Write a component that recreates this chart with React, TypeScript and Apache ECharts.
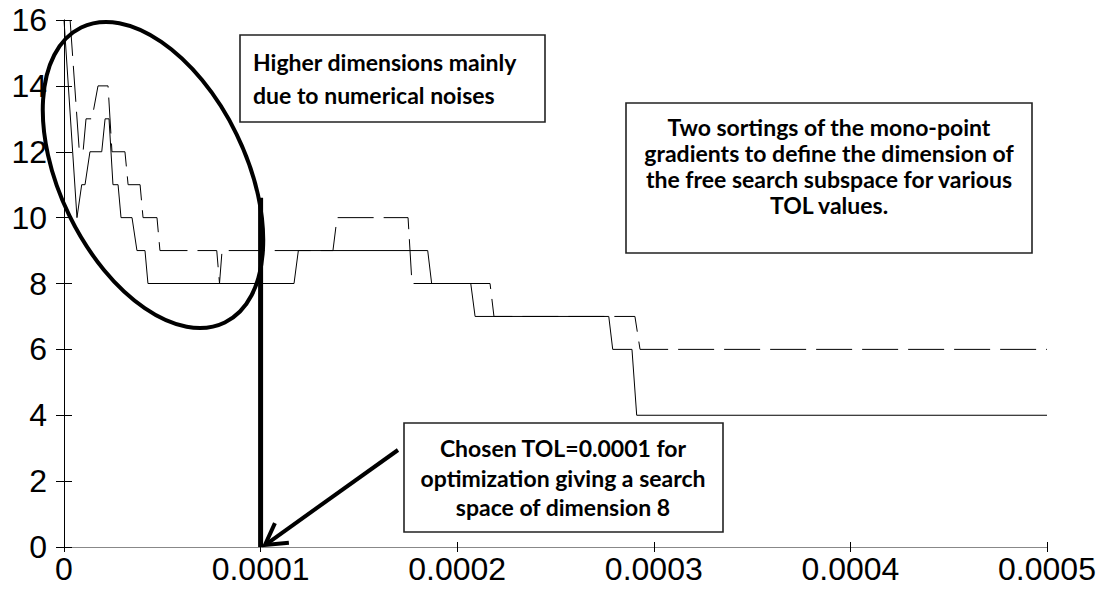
import React, { useEffect, useRef } from 'react';
import * as echarts from 'echarts';

// TOL values (x) and dimension of free search subspace (y)
const solidX = [0, 0.66e-5, 0.90e-5, 1.07e-5, 1.32e-5, 1.92e-5, 2.09e-5, 2.29e-5, 2.49e-5, 2.75e-5, 2.90e-5, 3.46e-5, 3.71e-5, 4.12e-5, 4.27e-5, 11.70e-5, 11.92e-5, 18.50e-5, 18.70e-5, 20.69e-5, 20.91e-5, 27.71e-5, 27.91e-5, 28.89e-5, 29.13e-5, 50e-5];
const solidY = [16, 10, 11, 11, 12, 12, 13, 13, 11, 11, 10, 10, 9, 9, 8, 8, 9, 9, 8, 8, 7, 7, 6, 6, 4, 4];
const dashedX = [0.31e-5, 0.78e-5, 0.97e-5, 1.12e-5, 1.42e-5, 1.73e-5, 2.24e-5, 2.44e-5, 3.10e-5, 3.26e-5, 3.87e-5, 4.02e-5, 4.73e-5, 4.88e-5, 7.77e-5, 7.91e-5, 8.04e-5, 13.68e-5, 13.89e-5, 17.50e-5, 17.70e-5, 21.67e-5, 21.87e-5, 29.04e-5, 29.30e-5, 50e-5];
const dashedY = [16, 12, 12, 13, 13, 14, 14, 12, 12, 11, 11, 10, 10, 9, 9, 8, 9, 9, 10, 10, 8, 8, 7, 7, 6, 6];
const chosenX = [0.0001, 0.0001];
const chosenY = [0, 10.6];
const xTickLabels = ['0', '0.0001', '0.0002', '0.0003', '0.0004', '0.0005'];
const yTickLabels = ['0', '2', '4', '6', '8', '10', '12', '14', '16'];

const noteFont = 'bold 23px Lato, "Open Sans", sans-serif';

function zip(xs: number[], ys: number[]) {
  return xs.map((x, i) => [x, ys[i]]);
}

export default function App() {
  const ref = useRef<HTMLDivElement>(null);
  useEffect(() => {
    if (!ref.current) return;
    const chart = echarts.init(ref.current, undefined, { renderer: 'svg' });

    // arrow geometry
    const tail = [398, 450];
    const tip = [265, 545];
    const dx = tail[0] - tip[0];
    const dy = tail[1] - tip[1];
    const len = Math.hypot(dx, dy);
    const ux = dx / len, uy = dy / len;
    const ang = (30 * Math.PI) / 180;
    const hl = 24;
    const arm = (s: number) => [
      tip[0] + hl * (ux * Math.cos(s * ang) - uy * Math.sin(s * ang)),
      tip[1] + hl * (ux * Math.sin(s * ang) + uy * Math.cos(s * ang)),
    ];

    const text = (t: string, x: number, y: number, align: string) => ({
      type: 'text',
      x,
      y,
      style: { text: t, font: noteFont, fill: '#000', textAlign: align, textVerticalAlign: 'middle' },
      z: 100,
    });
    const box = (x: number, y: number, w: number, h: number) => ({
      type: 'rect',
      shape: { x, y, width: w, height: h },
      style: { fill: '#fff', stroke: '#222', lineWidth: 1.6 },
      z: 99,
    });

    chart.setOption({
      animation: false,
      backgroundColor: '#fff',
      grid: { left: 64, right: 55, top: 20, bottom: 45, containLabel: false },
      xAxis: [
        {
          type: 'value', min: 0, max: 0.0005, interval: 0.0001,
          axisLine: { show: true, lineStyle: { color: '#000', width: 1 } },
          axisTick: { show: true, inside: true, length: 5, lineStyle: { color: '#000' } },
          splitLine: { show: false },
          axisLabel: {
            color: '#000', fontSize: 32, fontFamily: '"Liberation Sans", Arial, sans-serif', margin: 6,
            formatter: (v: number) => xTickLabels[Math.round(v / 0.0001)],
          },
        },
        {
          type: 'value', position: 'top', min: 0, max: 0.0005, interval: 0.0001,
          axisLine: { show: true, lineStyle: { color: '#888', width: 1 } },
          axisTick: { show: true, inside: true, length: 5, lineStyle: { color: '#000' } },
          splitLine: { show: false }, axisLabel: { show: false },
        },
      ],
      yAxis: [
        {
          type: 'value', min: 0, max: 16, interval: 2,
          axisLine: { show: true, lineStyle: { color: '#888', width: 1 } },
          axisTick: { show: true, inside: true, length: 8, lineStyle: { color: '#000' } },
          splitLine: { show: false },
          axisLabel: {
            color: '#000', fontSize: 32, fontFamily: '"Liberation Sans", Arial, sans-serif', margin: 17,
            formatter: (v: number) => yTickLabels[Math.round(v / 2)],
          },
        },
        {
          type: 'value', position: 'right', min: 0, max: 16, interval: 2,
          axisLine: { show: true, lineStyle: { color: '#000', width: 1 } },
          axisTick: { show: true, inside: true, length: 8, lineStyle: { color: '#000' } },
          splitLine: { show: false }, axisLabel: { show: false },
        },
      ],
      series: [
        {
          type: 'line', data: zip(solidX, solidY), showSymbol: false, symbol: 'none',
          lineStyle: { color: '#000', width: 1 }, z: 3,
        },
        {
          type: 'line', data: zip(dashedX, dashedY), showSymbol: false, symbol: 'none',
          lineStyle: { color: '#000', width: 1, type: [36, 10] }, z: 3,
        },
        {
          type: 'line', data: zip(chosenX, chosenY), showSymbol: false, symbol: 'none',
          lineStyle: { color: '#000', width: 5 }, z: 4,
        },
      ],
      graphic: [
        {
          type: 'ellipse', x: 153, y: 175, rotation: (-64 * Math.PI) / 180,
          shape: { cx: 0, cy: 0, rx: 164, ry: 93 },
          style: { fill: 'none', stroke: '#000', lineWidth: 4 }, z: 50,
        },
        box(240, 35, 305, 87),
        text('Higher dimensions mainly', 253, 62, 'left'),
        text('due to numerical noises', 253, 95, 'left'),
        box(626, 103, 406, 150),
        text('Two sortings of the mono-point', 829, 127, 'center'),
        text('gradients to define the dimension of', 829, 153, 'center'),
        text('the free search subspace for various', 829, 179, 'center'),
        text('TOL values.', 829, 205, 'center'),
        box(404, 423, 319, 109),
        text('Chosen TOL=0.0001 for', 563, 448, 'center'),
        text('optimization giving a search', 563, 478, 'center'),
        text('space of dimension 8', 563, 507, 'center'),
        {
          type: 'line', shape: { x1: tail[0], y1: tail[1], x2: tip[0] + ux * 3, y2: tip[1] + uy * 3 },
          style: { stroke: '#000', lineWidth: 4 }, z: 60,
        },
        {
          type: 'polyline', shape: { points: [arm(1), tip, arm(-1)] },
          style: { stroke: '#000', lineWidth: 4, fill: 'none', lineJoin: 'miter' }, z: 60,
        },
      ],
    });
    return () => chart.dispose();
  }, []);
  return <div ref={ref} style={{ position: 'absolute', left: 0, top: 0, width: 1102, height: 592 }} />;
}
